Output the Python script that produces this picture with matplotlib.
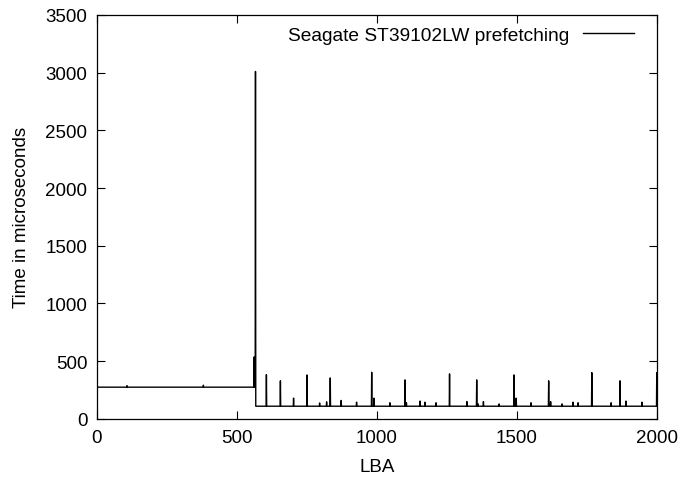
import numpy as np
import matplotlib.pyplot as plt

plt.rcParams['font.family'] = ['Liberation Sans', 'DejaVu Sans']

# baseline levels (microseconds)
pre_level = 275
post_level = 110
step_lba = 567

# small bumps on the early plateau
pre_bump_lba = [107, 380]
pre_bump_us = [288, 292]

# spikes after the step
spike_lba = [561, 566, 605, 655, 702, 750, 795, 820, 833, 872, 927, 981, 989,
             1046, 1100, 1105, 1154, 1171, 1211, 1259, 1321, 1356, 1361, 1380,
             1436, 1489, 1497, 1550, 1613, 1620, 1661, 1700, 1718, 1767, 1836,
             1868, 1889, 1946, 1999]
spike_us = [537, 3010, 384, 330, 180, 381, 138, 148, 355, 160, 145, 404, 180,
            140, 338, 140, 155, 145, 140, 390, 150, 338, 130, 150,
            130, 381, 180, 140, 330, 150, 130, 145, 140, 401, 140,
            330, 155, 145, 400]

lba = np.arange(0, 2001)
t = np.where(lba < step_lba, pre_level, post_level).astype(float)
for x, y in zip(pre_bump_lba, pre_bump_us):
    t[x] = y
for x, y in zip(spike_lba, spike_us):
    t[x] = y

fig = plt.figure(figsize=(6.83, 4.81), dpi=100)
ax = fig.add_axes([0.142, 0.127, 0.820, 0.840])
ax.plot(lba, t, color='black', lw=1.0, label='Seagate ST39102LW prefetching')

ax.set_xlim(0, 2000)
ax.set_ylim(0, 3500)
ax.set_xticks([0, 500, 1000, 1500, 2000])
ax.set_yticks(range(0, 3501, 500))
ax.tick_params(direction='in', length=6, width=0.8, labelsize=13.5, pad=7,
               top=True, right=True)
for s in ax.spines.values():
    s.set_linewidth(0.9)

ax.set_xlabel('LBA', fontsize=13.5, labelpad=9)
ax.set_ylabel('Time in microseconds', fontsize=13.5, labelpad=11)

ax.legend(loc='upper right', frameon=False, markerfirst=False, fontsize=13.8,
          handlelength=2.7, handletextpad=0.7, borderaxespad=0.2,
          bbox_to_anchor=(0.98, 1.0))

fig.savefig('out.png', dpi=100)
